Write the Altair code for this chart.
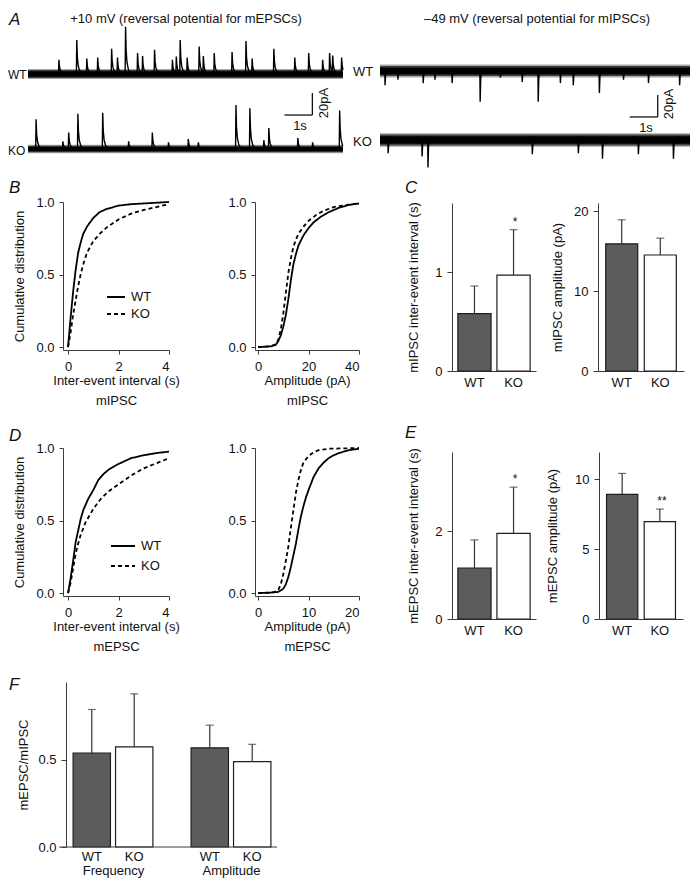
import altair as alt
import numpy as np
import pandas as pd

W, H = 682, 870
M = 8
FONT = "Liberation Sans"
TXT = "#111111"
AXC = "#3c3c3c"

# ---------------- Panel A: miniature currents (events) ----------------
trace_len = 11.3  # s
epsc_wt_t = [1.11, 1.75, 2.11, 2.50, 3.00, 3.21, 3.50, 3.93, 4.11, 4.54, 5.18, 5.32, 5.46, 5.71,
             6.14, 6.29, 6.68, 7.32, 7.82, 8.04, 8.82, 9.57, 10.07, 10.57, 10.82, 10.93, 11.25]
epsc_wt_a = [13, 31, 14, 15, 23, 15, 43, 19, 16, 22, 13, 15, 30, 15,
             25, 15, 19, 20, 30, 14, 23, 15, 19, 13, 19, 15, 15]
epsc_ko_t = [0.29, 1.25, 1.46, 1.79, 2.68, 3.61, 4.46, 5.04, 5.75, 6.11, 7.46, 7.96, 8.46, 8.64,
             9.68, 10.21, 11.18]
epsc_ko_a = [27, 7, 15, 32, 33, 7, 15, 6, 9, 6, 40, 37, 8, 19, 10, 6, 35]
ipsc_wt_t = [0.18, 0.64, 1.54, 1.96, 2.57, 3.57, 4.29, 5.07, 5.64, 6.43, 6.89, 7.82, 8.68, 9.57, 10.68]
ipsc_wt_a = [13, 8, 11, 8, 11, 28, 6, 10, 28, 11, 13, 20, 8, 11, 13]
ipsc_ko_t = [0.29, 1.50, 1.71, 5.43, 7.07, 7.93, 9.21, 10.46]
ipsc_ko_a = [12, 15, 25, 13, 12, 17, 13, 17]
noise_half = {"epsc_wt": 4.5, "epsc_ko": 3.8, "ipsc_wt": 5.8, "ipsc_ko": 6.2}  # pA
# event waveform shapes (time from peak in s, fraction of peak)
epsc_kernel_t = [-0.015, 0.0, 0.02, 0.05, 0.10, 0.20]
epsc_kernel_f = [0.0, 1.0, 0.50, 0.25, 0.10, 0.0]
ipsc_kernel_t = [-0.01, 0.0, 0.02, 0.05]
ipsc_kernel_f = [0.0, 1.0, 0.25, 0.0]
scalebar_t = 1.0   # s
scalebar_i = 20.0  # pA

# ---------------- Panel B / D: cumulative distributions ----------------
b_int_wt_x = [0, 0.05, 0.1, 0.2, 0.3, 0.4, 0.5, 0.6, 0.75, 1.0, 1.25, 1.5, 2.0, 2.5, 3.0, 4.0]
b_int_wt_y = [0, 0.10, 0.20, 0.38, 0.53, 0.65, 0.72, 0.78, 0.83, 0.89, 0.93, 0.95, 0.975, 0.985, 0.99, 1.0]
b_int_ko_x = [0, 0.05, 0.1, 0.2, 0.3, 0.4, 0.5, 0.6, 0.75, 1.0, 1.25, 1.5, 2.0, 2.5, 3.0, 3.5, 4.0]
b_int_ko_y = [0, 0.05, 0.10, 0.22, 0.32, 0.42, 0.50, 0.57, 0.65, 0.73, 0.78, 0.82, 0.88, 0.92, 0.945, 0.965, 0.985]
b_amp_wt_x = [0, 5, 7, 8, 9, 10, 11, 12, 13, 14, 15, 16, 18, 20, 22, 25, 28, 32, 36, 40]
b_amp_wt_y = [0, 0.005, 0.015, 0.04, 0.08, 0.14, 0.22, 0.33, 0.46, 0.57, 0.64, 0.70, 0.77, 0.82, 0.86, 0.90, 0.93, 0.96, 0.98, 0.99]
b_amp_ko_x = [0, 5, 7, 8, 9, 10, 11, 12, 13, 14, 15, 16, 18, 20, 23, 26, 30, 35, 40]
b_amp_ko_y = [0, 0.005, 0.02, 0.05, 0.12, 0.23, 0.37, 0.51, 0.61, 0.69, 0.74, 0.78, 0.83, 0.87, 0.91, 0.94, 0.965, 0.98, 0.99]
d_int_wt_x = [0, 0.1, 0.2, 0.3, 0.4, 0.5, 0.6, 0.8, 1.0, 1.2, 1.4, 1.6, 2.0, 2.5, 3.0, 3.5, 4.0]
d_int_wt_y = [0, 0.10, 0.22, 0.35, 0.43, 0.51, 0.57, 0.65, 0.71, 0.78, 0.82, 0.85, 0.89, 0.93, 0.95, 0.965, 0.975]
d_int_ko_x = [0, 0.1, 0.2, 0.3, 0.4, 0.5, 0.7, 1.0, 1.3, 1.6, 2.0, 2.5, 3.0, 3.5, 4.0]
d_int_ko_y = [0, 0.07, 0.17, 0.27, 0.34, 0.40, 0.49, 0.58, 0.65, 0.70, 0.75, 0.81, 0.86, 0.895, 0.93]
d_amp_wt_x = [0, 2, 4, 5, 5.5, 6, 6.5, 7, 7.5, 8, 8.5, 9, 9.5, 10, 11, 12, 13, 14, 15, 16, 18, 20]
d_amp_wt_y = [0, 0.002, 0.008, 0.03, 0.06, 0.11, 0.18, 0.26, 0.34, 0.44, 0.53, 0.60, 0.66, 0.71, 0.80, 0.86, 0.90, 0.93, 0.95, 0.965, 0.985, 0.995]
d_amp_ko_x = [0, 3, 4, 4.5, 5, 5.5, 6, 6.5, 7, 7.5, 8, 8.5, 9, 10, 11, 12, 14, 20]
d_amp_ko_y = [0, 0.005, 0.02, 0.06, 0.13, 0.22, 0.32, 0.45, 0.57, 0.69, 0.78, 0.85, 0.90, 0.945, 0.97, 0.985, 0.995, 1.0]

# ---------------- Panel C / E / F: bar charts (mean, SEM) ----------------
genotypes = ["WT", "KO"]
c_int_mean = [0.58, 0.97]; c_int_err = [0.28, 0.46]; c_int_sig = ["", "*"]
c_amp_mean = [15.9, 14.5]; c_amp_err = [3.0, 2.1]; c_amp_sig = ["", ""]
e_int_mean = [1.16, 1.95]; e_int_err = [0.64, 1.05]; e_int_sig = ["", "*"]
e_amp_mean = [8.9, 6.95]; e_amp_err = [1.5, 0.9]; e_amp_sig = ["", "**"]
f_freq_mean = [0.54, 0.575]; f_freq_err = [0.25, 0.305]
f_amp_mean = [0.57, 0.49]; f_amp_err = [0.13, 0.10]
no_sig = ["", ""]


# ---------------- helpers ----------------
def R(a, b):
    return [a - M, b - M]


def build_trace(times, amps, kt, kf, sign):
    knots = {0.0, trace_len}
    for t in times:
        for d in kt:
            knots.add(round(t + d, 4))
    knots = sorted(k for k in knots if 0 <= k <= trace_len)
    vals = []
    for k in knots:
        s = 0.0
        for t, a in zip(times, amps):
            s += a * float(np.interp(k - t, kt, kf, left=0.0, right=0.0))
        vals.append(sign * s)
    return pd.DataFrame({"t": knots, "i": vals})


def trace_layers(times, amps, kt, kf, sign, nz, xr, base):
    df = build_trace(times, amps, kt, kf, sign)
    xs = alt.Scale(domain=[0, trace_len], range=R(*xr), nice=False, zero=False)
    ys = alt.Scale(domain=[-40, 60], range=R(base + 44, base - 66), nice=False, zero=False)
    out = []
    for frac, op in ((1.0, 0.35), (0.8, 0.6), (0.55, 1.0)):
        band = pd.DataFrame({"t0": [0.0], "t1": [trace_len], "lo": [-nz * frac], "hi": [nz * frac]})
        out.append(alt.Chart(band).mark_rect(color="black", opacity=op).encode(
            x=alt.X("t0:Q", scale=xs, axis=None), x2="t1",
            y=alt.Y("lo:Q", scale=ys, axis=None), y2="hi"))
    out.append(alt.Chart(df).mark_line(color="black", strokeWidth=1.4).encode(
        x=alt.X("t:Q", scale=xs, axis=None), y=alt.Y("i:Q", scale=ys, axis=None)))
    return out, xs, ys


def scalebar(xs, ys, t0, i0):
    d = pd.DataFrame({"a": [t0, t0 + scalebar_t], "b": [t0 + scalebar_t, t0 + scalebar_t],
                      "c": [i0, i0], "e": [i0, i0 + scalebar_i]})
    return alt.Chart(d).mark_rule(color="black", strokeWidth=1.2).encode(
        x=alt.X("a:Q", scale=xs, axis=None), x2="b",
        y=alt.Y("c:Q", scale=ys, axis=None), y2="e")


def cdf_layer(wx, wy, kx, ky, xdom, xr, yr, xticks, xtitle, ytitle, legend):
    df = pd.concat([pd.DataFrame({"x": wx, "y": wy, "g": "WT"}),
                    pd.DataFrame({"x": kx, "y": ky, "g": "KO"})], ignore_index=True)
    yax = dict(orient="left", offset=-(xr[0] - M), values=[0, 0.5, 1], format=".1f",
               tickSize=4, labelPadding=5)
    if ytitle:
        yax.update(title=ytitle, titleX=19 - xr[0], titleAngle=270, titleBaseline="middle",
                   titleAlign="center")
    else:
        yax.update(title=None)
    xax = alt.Axis(orient="bottom", offset=(yr[0] - M) - H, values=xticks, format="d",
                   tickSize=4, labelPadding=6, title=xtitle, titleBaseline="top", titleY=24,
                   titleLineHeight=20)
    return alt.Chart(df).mark_line(color="black", strokeWidth=1.8).encode(
        x=alt.X("x:Q", scale=alt.Scale(domain=xdom, range=R(*xr), nice=False, zero=False), axis=xax),
        y=alt.Y("y:Q", scale=alt.Scale(domain=[-0.02, 1], range=R(*yr), nice=False, zero=False),
                axis=alt.Axis(**yax)),
        strokeDash=alt.StrokeDash("g:N", scale=alt.Scale(domain=["WT", "KO"], range=[[1, 0], [4, 3]]),
                                  legend=legend),
    )


def bar_layers(mean, err, sig, xr, pin, pout, ydom, yr, yticks, yfmt, ytitle, ytitle_x,
               axis_x=None, xtitle=None, show_y=True, xdomain=True, lab_pad=5, title_y=24):
    df = pd.DataFrame({"g": genotypes, "m": mean, "e": err, "s": sig})
    df["hi"] = df["m"] + df["e"]
    ax_x = xr[0] if axis_x is None else axis_x
    xs = alt.Scale(domain=genotypes, range=R(*xr), paddingInner=pin, paddingOuter=pout)
    ys = alt.Scale(domain=ydom, range=R(*yr), nice=False, zero=False)
    xkw = dict(orient="bottom", offset=(yr[0] - M) - H, labelAngle=0, ticks=False, domain=xdomain,
               labelPadding=lab_pad, labelBaseline="top")
    if xtitle:
        xkw.update(title=xtitle, titleBaseline="top", titleY=title_y)
    else:
        xkw.update(title=None)
    if show_y:
        yaxis = alt.Axis(orient="left", offset=-(ax_x - M), values=yticks, format=yfmt, tickSize=5,
                         labelPadding=5, title=ytitle, titleX=ytitle_x - ax_x, titleAngle=270,
                         titleBaseline="middle", titleAlign="center")
    else:
        yaxis = None
    bars = alt.Chart(df).mark_bar(stroke="#1e1e1e", strokeWidth=1.2).encode(
        x=alt.X("g:N", scale=xs, axis=alt.Axis(**xkw), sort=genotypes),
        y=alt.Y("m:Q", scale=ys, axis=yaxis),
        color=alt.Color("g:N", scale=alt.Scale(domain=genotypes, range=["#5c5c5c", "#ffffff"]), legend=None),
    )
    rule = alt.Chart(df).mark_rule(color="#333333", strokeWidth=1.2).encode(
        x=alt.X("g:N", scale=xs, axis=None, sort=genotypes),
        y=alt.Y("m:Q", scale=ys, axis=None), y2="hi")
    cap = alt.Chart(df).mark_tick(color="#333333", size=8, thickness=1.2).encode(
        x=alt.X("g:N", scale=xs, axis=None, sort=genotypes),
        y=alt.Y("hi:Q", scale=ys, axis=None))
    star = alt.Chart(df).mark_text(font=FONT, fontSize=12, baseline="bottom", dy=-1, color=TXT).encode(
        x=alt.X("g:N", scale=xs, axis=None, sort=genotypes),
        y=alt.Y("hi:Q", scale=ys, axis=None), text="s:N")
    return [bars, rule, cap, star]


def txt(s, x, y, size=13, align="center", baseline="middle", angle=0, italic=False):
    return alt.Chart(alt.Data(values=[{"s": s}])).mark_text(
        font=FONT, fontSize=size, align=align, baseline=baseline, angle=angle,
        fontStyle="italic" if italic else "normal", color=TXT).encode(
        x=alt.value(x - M), y=alt.value(y - M), text="s:N")


layers = []

# ---------------- Panel A ----------------
L, xs_wl, ys_wl = trace_layers(epsc_wt_t, epsc_wt_a, epsc_kernel_t, epsc_kernel_f, 1,
                               noise_half["epsc_wt"], (28, 343), 74)
layers += L
L, _, _ = trace_layers(epsc_ko_t, epsc_ko_a, epsc_kernel_t, epsc_kernel_f, 1,
                       noise_half["epsc_ko"], (28, 343), 149)
layers += L
L, xs_wr, ys_wr = trace_layers(ipsc_wt_t, ipsc_wt_a, ipsc_kernel_t, ipsc_kernel_f, -1,
                               noise_half["ipsc_wt"], (380, 697), 71)
layers += L
L, _, _ = trace_layers(ipsc_ko_t, ipsc_ko_a, ipsc_kernel_t, ipsc_kernel_f, -1,
                       noise_half["ipsc_ko"], (380, 697), 140)
layers += L
layers.append(scalebar(xs_wl, ys_wl, 9.2, -37.3))
layers.append(scalebar(xs_wr, ys_wr, 8.9, -41.8))

layers += [
    txt("+10 mV (reversal potential for mEPSCs)", 186, 19),
    txt("\u201349 mV (reversal potential for mIPSCs)", 537, 19),
    txt("WT", 8, 75, size=12, align="left"), txt("KO", 8, 151, size=12, align="left"),
    txt("WT", 353, 72, align="left"), txt("KO", 353, 142, align="left"),
    txt("1s", 300, 126), txt("20pA", 324, 103, angle=270),
    txt("1s", 646, 128), txt("20pA", 669, 104, angle=270),
]

# ---------------- Panel B ----------------
layers.append(cdf_layer(b_int_wt_x, b_int_wt_y, b_int_ko_x, b_int_ko_y, [-0.2, 4], (63, 169), (350, 202),
                        [0, 2, 4], ["Inter-event interval (s)", "mIPSC"], "Cumulative distribution",
                        alt.Legend(orient="none", legendX=106 - M, legendY=287 - M, title=None,
                                   symbolType="stroke", symbolSize=324, symbolStrokeWidth=2,
                                   symbolStrokeColor="black", labelFontSize=13, labelFont=FONT,
                                   labelColor=TXT, labelOffset=5, rowPadding=-2, padding=0)))
layers.append(cdf_layer(b_amp_wt_x, b_amp_wt_y, b_amp_ko_x, b_amp_ko_y, [-1.2, 40], (255, 359), (350, 202),
                        [0, 20, 40], ["Amplitude (pA)", "mIPSC"], None, None))

# ---------------- Panel D ----------------
layers.append(cdf_layer(d_int_wt_x, d_int_wt_y, d_int_ko_x, d_int_ko_y, [-0.2, 4], (63, 169), (596, 448),
                        [0, 2, 4], ["Inter-event interval (s)", "mEPSC"], "Cumulative distribution",
                        alt.Legend(orient="none", legendX=110 - M, legendY=533 - M, title=None,
                                   symbolType="stroke", symbolSize=576, symbolStrokeWidth=2,
                                   symbolStrokeColor="black", labelFontSize=13, labelFont=FONT,
                                   labelColor=TXT, labelOffset=5, rowPadding=-10, padding=0)))
layers.append(cdf_layer(d_amp_wt_x, d_amp_wt_y, d_amp_ko_x, d_amp_ko_y, [-0.6, 20], (255, 359), (596, 448),
                        [0, 10, 20], ["Amplitude (pA)", "mEPSC"], None, None))

# ---------------- Panel C ----------------
layers += bar_layers(c_int_mean, c_int_err, c_int_sig, (452, 536), 0.15, 0.15, [0, 1.7], (371, 203),
                     [0, 1], "d", "mIPSC inter-event interval (s)", 413)
layers += bar_layers(c_amp_mean, c_amp_err, c_amp_sig, (598, 684), 0.17, 0.2, [0, 21], (371, 203),
                     [0, 10, 20], "d", "mIPSC amplitude (pA)", 557)

# ---------------- Panel E ----------------
layers += bar_layers(e_int_mean, e_int_err, e_int_sig, (452, 536), 0.15, 0.15, [0, 3.8], (619, 452),
                     [0, 2], "d", "mEPSC inter-event interval (s)", 413)
layers += bar_layers(e_amp_mean, e_amp_err, e_amp_sig, (599, 683), 0.17, 0.2, [0, 11.93], (619, 452),
                     [0, 5, 10], "d", "mEPSC amplitude (pA)", 552)

# ---------------- Panel F ----------------
layers += bar_layers(f_freq_mean, f_freq_err, no_sig, (68, 158), 0.12, 0.12, [0, 0.948], (847, 682),
                     [0, 0.5], ".1f", "mEPSC/mIPSC", 23, axis_x=66, xtitle="Frequency", xdomain=False,
                     lab_pad=3, title_y=17)
layers += bar_layers(f_amp_mean, f_amp_err, no_sig, (186, 276), 0.12, 0.12, [0, 0.948], (847, 682),
                     [0, 0.5], ".1f", None, 0, xtitle="Amplitude", show_y=False, xdomain=False,
                     lab_pad=3, title_y=17)
layers.append(alt.Chart(alt.Data(values=[{"k": 1}])).mark_rule(color=AXC, strokeWidth=1).encode(
    x=alt.value(59 - M), x2=alt.value(277 - M), y=alt.value(847 - M)))

# ---------------- panel letters ----------------
for letter, lx, ly in (("A", 9, 25), ("B", 9, 193), ("C", 405, 193), ("D", 9, 441),
                       ("E", 405, 438), ("F", 9, 690)):
    layers.append(txt(letter, lx, ly, size=17, align="left", baseline="alphabetic", italic=True))

chart = (
    alt.layer(*layers)
    .resolve_scale(x="independent", y="independent", color="independent", strokeDash="independent")
    .resolve_axis(x="independent", y="independent")
    .resolve_legend(strokeDash="independent", color="independent")
    .properties(width=W, height=H, autosize=alt.AutoSizeParams(type="none"), padding=0)
    .configure(font=FONT)
    .configure_view(stroke=None)
    .configure_axis(grid=False, labelFont=FONT, labelFontSize=13, labelColor=TXT,
                    titleFont=FONT, titleFontSize=13, titleFontWeight="normal", titleColor=TXT,
                    domainColor=AXC, tickColor=AXC, domainWidth=1, tickWidth=1)
)

chart.save("out.html", embed_options={"renderer": "svg", "actions": False})
